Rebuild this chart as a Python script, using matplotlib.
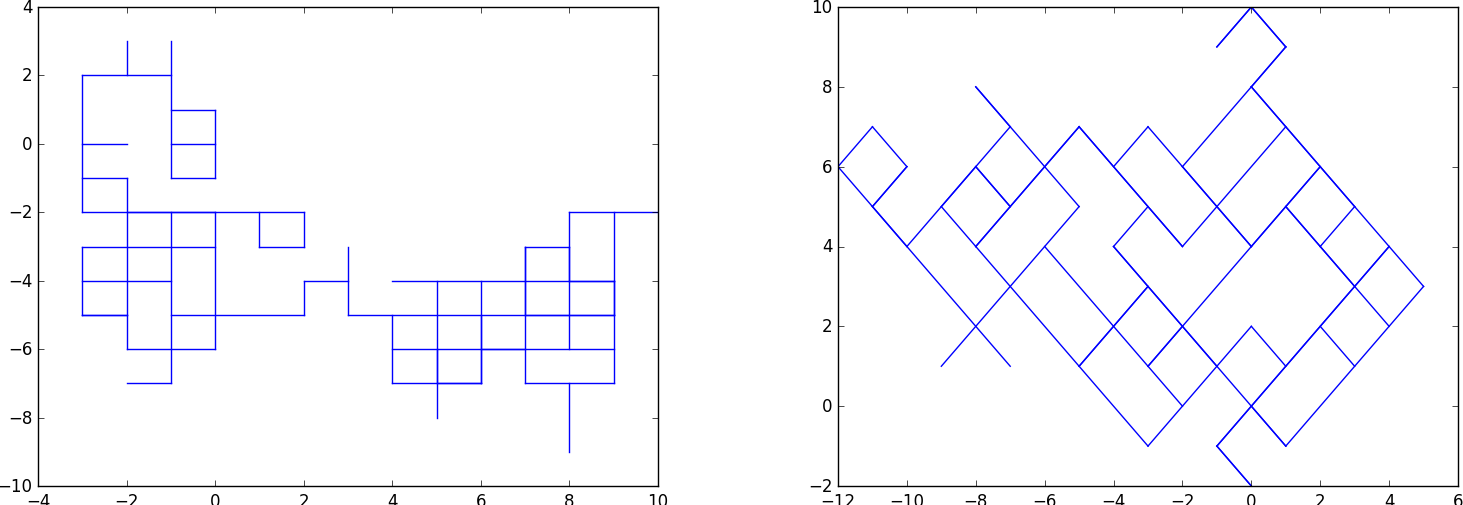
import matplotlib
matplotlib.use("Agg")
import matplotlib.pyplot as plt

plt.style.use("classic")

# ---------------- Left: lattice walk (runs of unit steps) ----------------
# horizontal runs: (y, x_start, x_end)
left_h_runs = [
    (2, -3, -1), (1, -1, 0), (0, -3, -2), (0, -1, 0),
    (-1, -3, -2), (-1, -1, 0),
    (-2, -3, 2), (-2, 8, 10),
    (-3, -3, 0), (-3, 1, 2), (-3, 7, 8),
    (-4, -3, -1), (-4, 2, 3), (-4, 4, 9),
    (-5, -3, -2), (-5, -1, 2), (-5, 3, 9),
    (-6, -2, 0), (-6, 4, 9),
    (-7, -2, -1), (-7, 4, 6), (-7, 7, 9),
]
# vertical runs: (x, y_start, y_end)
left_v_runs = [
    (-3, 2, -2), (-3, -3, -5),
    (-2, 2, 3), (-2, -1, -6),
    (-1, 3, -1), (-1, -2, -7),
    (0, 1, -1), (0, -2, -6),
    (1, -2, -3),
    (2, -2, -3), (2, -4, -5),
    (3, -3, -5),
    (4, -5, -7),
    (5, -4, -8),
    (6, -4, -7),
    (7, -3, -7),
    (8, -2, -6), (8, -7, -9),
    (9, -2, -7),
]
# steps walked twice (drawn twice)
left_retraced = [
    ((-3, -5), (-2, -5)), ((-2, -2), (0, -2)),
    ((5, -6), (5, -7)), ((5, -7), (6, -7)), ((6, -5), (6, -7)),
    ((6, -6), (7, -6)), ((7, -3), (7, -5)), ((8, -3), (8, -4)),
    ((7, -5), (9, -5)), ((8, -4), (9, -4)), ((9, -4), (9, -5)),
]

# ---------------- Right: diagonal walk (runs of unit diagonal steps) ----------------
# each run: (start point, end point)
right_runs = [
    # down-right runs
    ((-12, 6), (-7, 1)), ((-11, 7), (-10, 6)), ((-8, 8), (-5, 5)),
    ((-8, 6), (-7, 5)), ((-9, 5), (-8, 4)), ((-8, 4), (-3, -1)),
    ((-6, 4), (-2, 0)), ((-5, 7), (-2, 4)), ((-3, 7), (-2, 6)),
    ((-4, 4), (0, 0)), ((-2, 6), (0, 4)), ((0, 10), (1, 9)),
    ((0, 8), (5, 3)), ((1, 5), (2, 4)), ((2, 4), (4, 2)),
    ((0, 2), (1, 1)), ((2, 2), (3, 1)), ((0, 0), (1, -1)),
    ((-1, -1), (0, -2)),
    # up-right runs
    ((-12, 6), (-11, 7)), ((-11, 5), (-10, 6)), ((-10, 4), (-7, 7)),
    ((-8, 4), (-5, 7)), ((-9, 1), (-5, 5)), ((-4, 6), (-3, 7)),
    ((-4, 4), (-3, 5)), ((-5, 1), (-3, 3)), ((-3, 1), (0, 4)),
    ((-3, -1), (0, 2)), ((-2, 4), (1, 7)), ((-2, 6), (0, 8)),
    ((-1, 9), (0, 10)), ((0, 8), (1, 9)), ((0, 4), (2, 6)),
    ((2, 4), (3, 5)), ((-1, -1), (4, 4)), ((1, -1), (5, 3)),
]
right_retraced = [
    ((-11, 5), (-10, 6)), ((-11, 5), (-10, 4)), ((-9, 5), (-8, 6)),
    ((-8, 6), (-7, 5)), ((-8, 4), (-5, 7)), ((-8, 8), (-7, 7)),
    ((-5, 7), (-2, 4)), ((-4, 4), (-1, 1)), ((-5, 1), (-3, 3)),
    ((-3, 1), (-2, 2)), ((-2, 6), (0, 4)), ((0, 4), (2, 6)),
    ((0, 8), (3, 5)), ((0, 10), (1, 9)), ((1, 9), (0, 8)),
    ((-1, 9), (0, 10)), ((-1, -1), (4, 4)), ((0, 0), (1, -1)),
    ((-1, -1), (0, -2)), ((1, 5), (2, 4)), ((2, 4), (3, 3)),
]

left_xlim, left_ylim = (-4, 10), (-10, 4)
right_xlim, right_ylim = (-12, 6), (-2, 10)

fig = plt.figure(figsize=(14.63, 5.06), dpi=100, facecolor="white")
W, H = 1463.0, 506.0
ax1 = fig.add_axes([38 / W, 1 - 487 / H, 620 / W, 479 / H])
ax2 = fig.add_axes([838 / W, 1 - 487 / H, 620 / W, 479 / H])

lw = 1.0
col = "b"
for (y, x0, x1) in left_h_runs:
    ax1.plot([x0, x1], [y, y], color=col, lw=lw)
for (x, y0, y1) in left_v_runs:
    ax1.plot([x, x], [y0, y1], color=col, lw=lw)
for (p, q) in left_retraced:
    ax1.plot([p[0], q[0]], [p[1], q[1]], color=col, lw=lw)

for (p, q) in right_runs:
    ax2.plot([p[0], q[0]], [p[1], q[1]], color=col, lw=lw)
for (p, q) in right_retraced:
    ax2.plot([p[0], q[0]], [p[1], q[1]], color=col, lw=lw)

ax1.set_xlim(*left_xlim)
ax1.set_ylim(*left_ylim)
ax2.set_xlim(*right_xlim)
ax2.set_ylim(*right_ylim)

for ax in (ax1, ax2):
    ax.tick_params(labelsize=12)

fig.savefig("out.png", dpi=100, facecolor="white")
